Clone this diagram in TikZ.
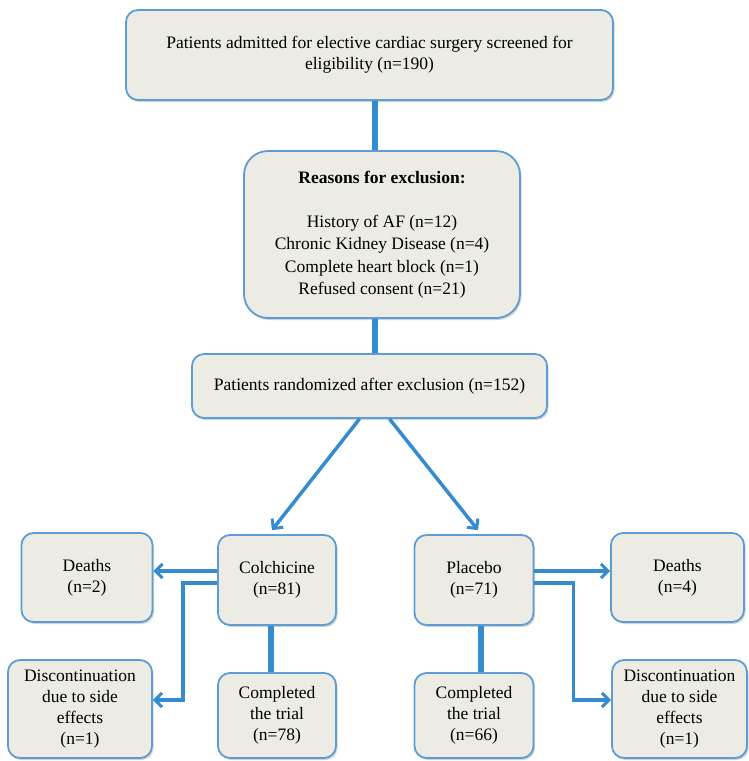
\documentclass[tikz,border=0pt]{standalone}
\usepackage{fontspec}
\setmainfont{Liberation Serif}
\usetikzlibrary{arrows.meta,shadows}

\definecolor{boxfill}{RGB}{237,236,228}
\definecolor{boxline}{RGB}{92,157,214}
\definecolor{flow}{RGB}{52,140,206}

\tikzset{
  box/.style={rectangle, fill=boxfill, draw=boxline, line width=1.8pt, rounded corners=12pt,
    align=center, inner sep=2pt, font=\fontsize{17.5}{21}\selectfont,
    drop shadow={opacity=0.35, shadow xshift=1.5pt, shadow yshift=-2pt}},
  trunk/.style={draw=flow, line width=6pt},
  link/.style={draw=flow, line width=3.5pt, -{Straight Barb[length=7pt,width=14pt,line width=3pt]}}
}

\begin{document}
\begin{tikzpicture}[x=1pt,y=-1pt]
\useasboundingbox (0,0) rectangle (748,761);

% top of the flow
\node[box, minimum width=487pt, minimum height=90pt] (screen) at (369.5,55)
  {Patients admitted for elective cardiac surgery screened for\\ eligibility (n=190)};
\node[box, rounded corners=24pt, minimum width=276pt, minimum height=167pt] (excl) at (382,234.5)
  {\textbf{Reasons for exclusion:}\\[23pt]
   History of AF (n=12)\\[1.5pt] Chronic Kidney Disease (n=4)\\[1.5pt] Complete heart block (n=1)\\[1.5pt] Refused consent (n=21)};
\node[box, minimum width=355pt, minimum height=64pt] (rand) at (369.5,386)
  {Patients randomized after exclusion (n=152)};

% the two arms
\node[box, minimum width=118pt, minimum height=90pt] (colch) at (277,580) {Colchicine\\ (n=81)};
\node[box, minimum width=119pt, minimum height=90pt] (plac) at (474,580) {Placebo\\ (n=71)};

\node[box, minimum width=131pt, minimum height=89pt] (deathL) at (87,577.5) {Deaths\\ (n=2)};
\node[box, minimum width=133pt, minimum height=89pt] (deathR) at (677.5,577.5) {Deaths\\ (n=4)};
\node[box, minimum width=144pt, minimum height=98pt] (discL) at (80,709)
  {Discontinuation\\ due to side\\ effects\\ (n=1)};
\node[box, minimum width=135pt, minimum height=98pt] (discR) at (679.5,709)
  {Discontinuation\\ due to side\\ effects\\ (n=1)};
\node[box, minimum width=118pt, minimum height=85pt] (complL) at (277,715.5) {Completed\\ the trial\\ (n=78)};
\node[box, minimum width=119pt, minimum height=85pt] (complR) at (474,715.5) {Completed\\ the trial\\ (n=66)};

% connectors
\draw[trunk] ([xshift=5.5pt]screen.south) -- ([xshift=5.5pt]screen.south |- excl.north);
\draw[trunk] ([xshift=-7pt]excl.south) -- ([xshift=-7pt]excl.south |- rand.north);
\draw[link] ([xshift=-10pt]rand.south) -- ([xshift=-5pt,yshift=4pt]colch.north);
\draw[link] ([xshift=20pt]rand.south) -- ([xshift=4pt,yshift=4pt]plac.north);

\draw[link] ([yshift=9pt]colch.west) -- ([yshift=9pt]colch.west -| deathL.east);
\draw[link] ([yshift=-3pt]colch.west) -- ++(-34,0) |- ([yshift=9pt]discL.east);
\draw[link] ([yshift=9pt]plac.east) -- ([yshift=9pt]plac.east -| deathR.west);
\draw[link] ([yshift=-3pt]plac.east) -- ++(39,0) |- ([yshift=9pt]discR.west);

\draw[trunk] ([xshift=-6pt]colch.south) -- ([xshift=-6pt]complL.north);
\draw[trunk] ([xshift=7pt]plac.south) -- ([xshift=7pt]complR.north);
\end{tikzpicture}
\end{document}
